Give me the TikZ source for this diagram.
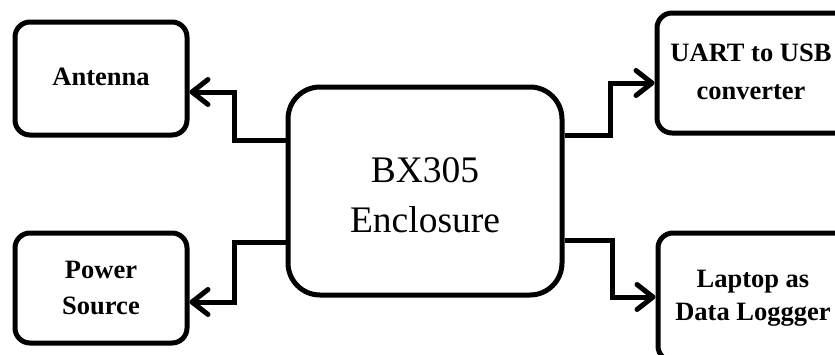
\documentclass[tikz,border=0pt]{standalone}
\usepackage{fontspec}
\setmainfont{Liberation Serif}
\usetikzlibrary{arrows.meta}
\begin{document}
\begin{tikzpicture}[x=1pt,y=-1pt,
  smallbox/.style={draw, line width=5pt, rounded corners=15pt, align=center,
    font=\bfseries\fontsize{26.5}{36}\selectfont, inner sep=0pt},
  bigbox/.style={draw, line width=5pt, rounded corners=32pt, align=center,
    font=\fontsize{37.5}{50}\selectfont, inner sep=0pt},
  conn/.style={line width=5pt, -{Straight Barb[length=16pt,width=25pt,round]}}]
\path[use as bounding box, clip] (0,0) rectangle (835,354);
\node[smallbox, minimum width=172pt, minimum height=113pt] (ant) at (101,78.5) {\raisebox{2pt}[\height][\depth]{Antenna}};
\node[smallbox, minimum width=172pt, minimum height=110pt] (pow) at (101,288) {Power\\Source};
\node[bigbox, minimum width=274pt, minimum height=208pt] (cen) at (425,191)
  {\raisebox{-6pt}[\height][\depth]{\begin{tabular}{@{}c@{}}BX305\\Enclosure\end{tabular}}};
\node[smallbox, minimum width=212pt, minimum height=120pt] (uart) at (763,73)
  {\begin{tabular}{@{}c@{}}UART to USB\\[2pt]converter\end{tabular}\hspace{24pt}};
\node[smallbox, minimum width=212pt, minimum height=128pt] (lap) at (764,297)
  {\begin{tabular}{@{}c@{}}Laptop as\\[-3pt]Data Loggger\end{tabular}\hspace{22pt}};
\draw[conn] ([yshift=51pt]cen.west) -- ++(-51,0) |- ([yshift=-13.5pt]ant.east);
\draw[conn] ([yshift=-51pt]cen.west) -- ++(-51,0) |- ([yshift=-14pt]pow.east);
\draw[conn] ([yshift=56pt]cen.east) -- ++(46,0) |- ([yshift=-10pt]uart.west);
\draw[conn] ([yshift=-49pt]cen.east) -- ++(48,0) |- (lap.west);
\end{tikzpicture}
\end{document}
